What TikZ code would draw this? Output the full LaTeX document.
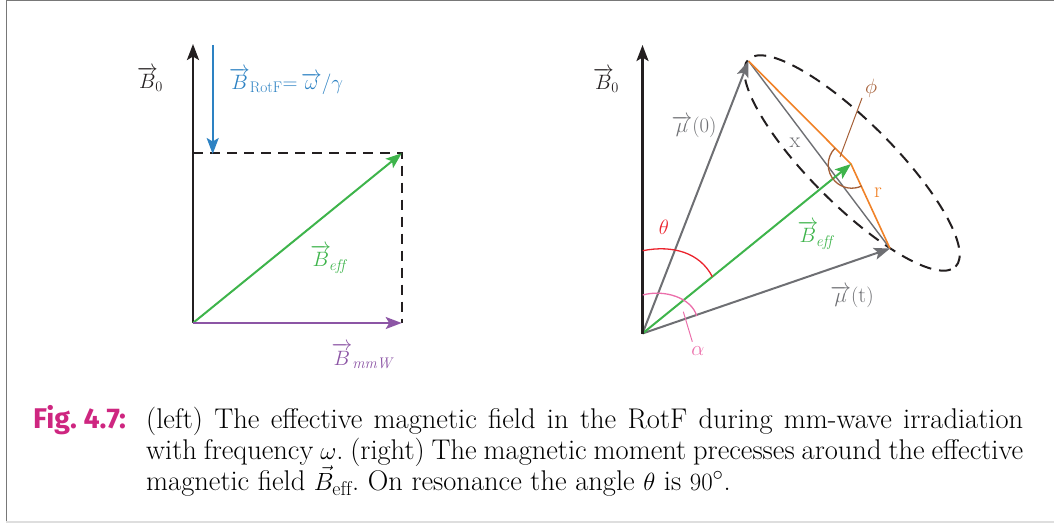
\documentclass[tikz,border=0pt]{standalone}
\usepackage{amsmath}
\usepackage{fontspec}
\newfontfamily\figfont{Fira Sans}
\usetikzlibrary{arrows.meta}
\definecolor{axisblack}{RGB}{35,31,32}
\definecolor{fblue}{RGB}{45,130,195}
\definecolor{fgreen}{RGB}{62,180,75}
\definecolor{fpurple}{RGB}{140,85,165}
\definecolor{fgray}{RGB}{110,111,115}
\definecolor{forange}{RGB}{240,130,40}
\definecolor{fbrown}{RGB}{165,95,55}
\definecolor{fred}{RGB}{235,35,45}
\definecolor{fpink}{RGB}{235,110,170}
\definecolor{figmag}{RGB}{206,38,128}
\definecolor{framegray}{RGB}{120,120,120}
\definecolor{framelight}{RGB}{222,222,222}
\tikzset{
  vecarrow/.style={line width=2pt,-{Stealth[length=16pt,width=12pt,inset=3.5pt]}},
  axisarrow/.style={vecarrow,line width=2.5pt,draw=axisblack,color=axisblack},
  dashline/.style={line width=2pt,axisblack,dash pattern=on 10pt off 7pt},
  ellipsedash/.style={line width=2pt,axisblack,dash pattern=on 12pt off 8pt},
  lbl/.style={font=\fontsize{22}{26}\selectfont,inner sep=0pt},
  caption/.style={font=\fontsize{28.5}{31}\selectfont\frenchspacing,inner sep=0pt,anchor=base west},
  anglearc/.style={line width=1.3pt},
}
\begin{document}
\begin{tikzpicture}[x=1pt,y=-1pt]
\useasboundingbox (0,0) rectangle (1054,524);
% frame
\coordinate (F1) at (6.5,0);
\coordinate (F2) at (6.5,521);
\coordinate (F3) at (1054,0.75);
\coordinate (F4) at (6,0.75);
\coordinate (F5) at (6,521.5);
\coordinate (F6) at (1054,521.5);
\draw[framegray,line width=1.5pt] (F1) -- (F2);
\draw[framegray,line width=1.5pt] (F4) -- (F3);
\draw[framelight,line width=2pt] (F5) -- (F6);

% ---------------- left diagram ----------------
\coordinate (L0) at (193,323);
\coordinate (LB0) at (193,44);
\coordinate (Ltop) at (212.7,45);
\coordinate (Lrot) at (212.7,154);
\coordinate (Lc) at (401.7,153.3);
\coordinate (Lm) at (401.7,323);
\coordinate (Ld) at (193,153.3);

\draw[dashline] (Ld) -- (Lc) -- (Lm);
\draw[axisarrow] (L0) -- (LB0);
\draw[vecarrow,fblue] (Ltop) -- (Lrot);
\draw[vecarrow,fgreen] (L0) -- (Lc);
\draw[vecarrow,fpurple] (L0) -- (Lm);

\node[lbl,axisblack] (lB0) at (150,79) {$\overrightarrow{B}_{\!0}$};
\node[lbl,fblue,anchor=west] (lrot) at (229,81) {$\overrightarrow{B}_{\mathrm{RotF}}{=}\,\overrightarrow{\omega}/\gamma$};
\node[lbl,fgreen] (leff) at (328,259) {$\overrightarrow{B}_{\!\mathit{eff}}$};
\node[lbl,fpurple] (lmmw) at (362,356) {$\overrightarrow{B}_{\mathit{mmW}}$};

% ---------------- right diagram ----------------
\coordinate (O) at (642.5,333.5);
\coordinate (RB0) at (642.5,45);
\coordinate (M0) at (748.5,61);
\coordinate (Mt) at (890,248.5);
\coordinate (Be) at (851,164);
\coordinate (Ec) at (852,163);

\draw[ellipsedash,rotate around={-45:(Ec)}] (Ec) ellipse [x radius=146.5pt,y radius=41.5pt];
\draw[fgray,line width=1.4pt] (M0) -- (Mt);
\draw[forange,line width=1.6pt] (M0) -- (Be) -- (Mt);
\draw[vecarrow,fgray] (O) -- (M0);
\draw[vecarrow,fgray] (O) -- (Mt);
\draw[vecarrow,fgreen] (O) -- (Be);
\draw[axisarrow] (O) -- (RB0);

% theta arc
\coordinate (thS) at (642.7,250.7);
\coordinate (thE) at (712.3,276.7);
\draw[anglearc,fred] (thS) .. controls (672.7,244.7) and (700,252.7) .. (thE);
% alpha arc
\coordinate (alS) at (642.7,295);
\coordinate (alE) at (696.7,316);
\draw[anglearc,fpink] (alS) .. controls (664.7,289) and (691.7,298) .. (alE);
\coordinate (alL1) at (683.3,311.7);
\coordinate (alL2) at (692.3,341.7);
\draw[fpink,line width=1pt] (alL1) -- (alL2);
% phi arc
\draw[anglearc,fbrown] (Be) ++(225:22.5) arc[start angle=225,end angle=65,radius=23.5];
\coordinate (phL1) at (862,98);
\coordinate (phL2) at (840,157);
\draw[fbrown,line width=1pt] (phL1) -- (phL2);

\node[lbl,axisblack] (rB0) at (606,80) {$\overrightarrow{B}_{\!0}$};
\node[lbl,fgray] (lmu0) at (694,127) {$\overrightarrow{\mu}(0)$};
\node[lbl,fgray] (lmut) at (852,297) {$\overrightarrow{\mu}(\mathrm{t})$};
\node[lbl,fgreen] (reff) at (815,235) {$\overrightarrow{B}_{\!\mathit{eff}}$};
\node[lbl,fgray] (lx) at (795,143) {x};
\node[lbl,forange] (lr) at (878,193) {r};
\node[lbl,fbrown] (lphi) at (871,88) {$\phi$};
\node[lbl,fred] (lth) at (664,227) {$\theta$};
\node[lbl,fpink] (lal) at (698,351) {$\alpha$};

% ---------------- caption ----------------
\node[caption,figmag] (cfig) at (33,428) {\figfont\bfseries Fig.\ 4.7:};
\node[caption] (c1) at (146,428) {\makebox[877pt][s]{(left) The effective magnetic field in the RotF during mm-wave irradiation}};
\node[caption] (c2) at (146,459) {\makebox[877pt][s]{with frequency $\omega$. (right) The magnetic moment precesses around the effective}};
\node[caption] (c3) at (146,490) {magnetic field $\vec{B}_{\mathrm{eff}}$. On resonance the angle $\theta$ is $90^\circ$.};
\end{tikzpicture}
\end{document}
